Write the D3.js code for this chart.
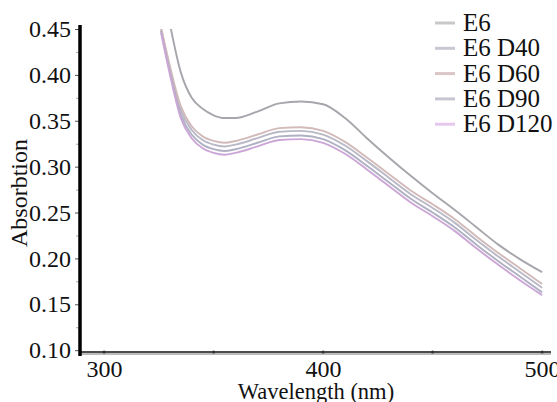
<!DOCTYPE html>
<html>
<head>
<meta charset="utf-8">
<script src="https://cdn.jsdelivr.net/npm/d3@7"></script>
<style>
  body { margin: 0; background: #fff; }
  svg, svg text { font-family: 'Liberation Serif' !important; }
</style>
</head>
<body>
<div id="container"></div>
<script>
/* CONSTANTS AND GLOBALS */
const width = 557,
  height = 402,
  serifFace = "Liberation Serif";

/* DATA */
const wavelengths = [326, 330, 335, 340, 345, 350, 355, 360, 370, 380, 390, 400, 410, 420, 430, 440, 450, 460, 470, 480, 490, 500];
const e6    = [null, 0.456, 0.403, 0.375, 0.363, 0.356, 0.353, 0.353, 0.360, 0.369, 0.371, 0.368, 0.353, 0.331, 0.310, 0.290, 0.271, 0.253, 0.234, 0.215, 0.199, 0.185];
const e6d40 = [0.450, 0.408, 0.362, 0.340, 0.329, 0.324, 0.322, 0.324, 0.331, 0.338, 0.339, 0.335, 0.323, 0.306, 0.288, 0.270, 0.255, 0.239, 0.220, 0.202, 0.185, 0.168];
const e6d60 = [0.452, 0.410, 0.366, 0.344, 0.333, 0.328, 0.326, 0.328, 0.335, 0.342, 0.343, 0.339, 0.327, 0.310, 0.292, 0.274, 0.259, 0.243, 0.224, 0.206, 0.189, 0.172];
const e6d90 = [0.448, 0.404, 0.357, 0.335, 0.324, 0.319, 0.317, 0.319, 0.326, 0.333, 0.334, 0.330, 0.318, 0.301, 0.283, 0.265, 0.250, 0.234, 0.215, 0.197, 0.180, 0.163];
const e6d120 = [0.446, 0.401, 0.353, 0.331, 0.320, 0.315, 0.313, 0.315, 0.322, 0.329, 0.330, 0.326, 0.314, 0.297, 0.279, 0.261, 0.246, 0.230, 0.211, 0.193, 0.176, 0.160];

const seriesNames = ["E6", "E6 D40", "E6 D60", "E6 D90", "E6 D120"];
const seriesValues = [e6, e6d40, e6d60, e6d90, e6d120];
const lineColors = ["#a6a6ac", "#b8b8c6", "#d2baba", "#b0b0c4", "#cca6d6"];
const legendColors = ["#c8c8c8", "#c8c8d2", "#dac6c6", "#c6c6d2", "#e6c8ee"];

const xTicks = [300, 350, 400, 450, 500];
const xLabels = [300, 400, 500];
const yTicks = [0.10, 0.15, 0.20, 0.25, 0.30, 0.35, 0.40, 0.45];
const yMinorTicks = [0.125, 0.175, 0.225, 0.275, 0.325, 0.375, 0.425];

/* SCALES */
const xScale = d3.scaleLinear()
  .domain([289, 503.6])
  .range([80, 550]);

const yScale = d3.scaleLinear()
  .domain([0.098, 0.45])
  .range([352, 29]);

/* HTML ELEMENTS */
const svg = d3.select("#container")
  .append("svg")
  .style("background-color", "white")
  .attr("font-family", serifFace)
  .attr("width", width)
  .attr("height", height);

svg.append("clipPath")
  .attr("id", "plot-clip")
  .append("rect")
  .attr("x", 80).attr("y", 29)
  .attr("width", 475).attr("height", 323);

// lines
const line = d3.line()
  .defined(d => d[1] != null)
  .x(d => xScale(d[0]))
  .y(d => yScale(d[1]))
  .curve(d3.curveMonotoneX);

svg.append("g")
  .attr("clip-path", "url(#plot-clip)")
  .selectAll("path")
  .data(seriesValues)
  .enter()
  .append("path")
  .attr("d", vals => line(wavelengths.map((w, i) => [w, vals[i]])))
  .attr("fill", "none")
  .attr("stroke", (d, i) => lineColors[i])
  .attr("stroke-width", 1.9);

// x axis
const xAxis = d3.axisBottom(xScale)
  .tickValues(xTicks)
  .tickSize(0)
  .tickFormat(d => xLabels.includes(d) ? d : "");

const gx = svg.append("g")
  .attr("transform", "translate(0,352)")
  .call(xAxis)
  .attr("font-family", serifFace)
  .attr("font-size", 24);
gx.select(".domain").remove();
gx.selectAll("text")
  .attr("y", 25)
  .attr("dy", 0)
  .attr("font-family", serifFace)
  .attr("fill", "#111");

// shadow + axis line
svg.append("line")
  .attr("x1", 80).attr("x2", 551)
  .attr("y1", 354).attr("y2", 354)
  .attr("stroke", "#bbb").attr("stroke-width", 2);
svg.append("line")
  .attr("x1", 80).attr("x2", 551)
  .attr("y1", 352).attr("y2", 352)
  .attr("stroke", "#111").attr("stroke-width", 1.6);

svg.append("g")
  .selectAll("circle")
  .data(xTicks)
  .enter()
  .append("circle")
  .attr("cx", d => xScale(d))
  .attr("cy", 352)
  .attr("r", 1.6)
  .attr("fill", "#333");

// y axis
const yAxis = d3.axisLeft(yScale)
  .tickValues(yTicks)
  .tickSize(4)
  .tickPadding(4)
  .tickFormat(d3.format(".2f"));

const gy = svg.append("g")
  .attr("transform", "translate(79,0)")
  .call(yAxis)
  .attr("font-family", serifFace)
  .attr("font-size", 24);
gy.select(".domain").remove();
gy.selectAll(".tick line").attr("stroke", "#555");
gy.selectAll("text")
  .attr("font-family", serifFace)
  .attr("fill", "#111");

// minor y ticks
const gyMinor = svg.append("g")
  .attr("transform", "translate(79,0)")
  .call(d3.axisLeft(yScale).tickValues(yMinorTicks).tickSize(3).tickFormat(""));
gyMinor.select(".domain").remove();
gyMinor.selectAll(".tick line").attr("stroke", "#aaa");

svg.append("line")
  .attr("x1", 80).attr("x2", 80)
  .attr("y1", 25).attr("y2", 356)
  .attr("stroke", "#000").attr("stroke-width", 3.5);

// axis titles
svg.append("text")
  .attr("x", 316)
  .attr("y", 399)
  .attr("text-anchor", "middle")
  .attr("font-family", serifFace)
  .attr("font-size", 22.5)
  .attr("fill", "#111")
  .text("Wavelength (nm)");

svg.append("text")
  .attr("transform", "translate(27,193) rotate(-90)")
  .attr("text-anchor", "middle")
  .attr("font-family", serifFace)
  .attr("font-size", 24)
  .attr("fill", "#111")
  .text("Absorbtion");

// legend
const legend = svg.append("g")
  .selectAll("g")
  .data(seriesNames)
  .enter()
  .append("g")
  .attr("transform", (d, i) => `translate(435,${31 + i * 25.3})`);

legend.append("line")
  .attr("x1", 0).attr("x2", 20)
  .attr("y1", -8).attr("y2", -8)
  .attr("stroke", (d, i) => legendColors[i])
  .attr("stroke-width", 3);

legend.append("text")
  .attr("x", 28)
  .attr("y", 0)
  .attr("font-family", serifFace)
  .attr("font-size", 25)
  .attr("fill", "#111")
  .text(d => d);
</script>
</body>
</html>
